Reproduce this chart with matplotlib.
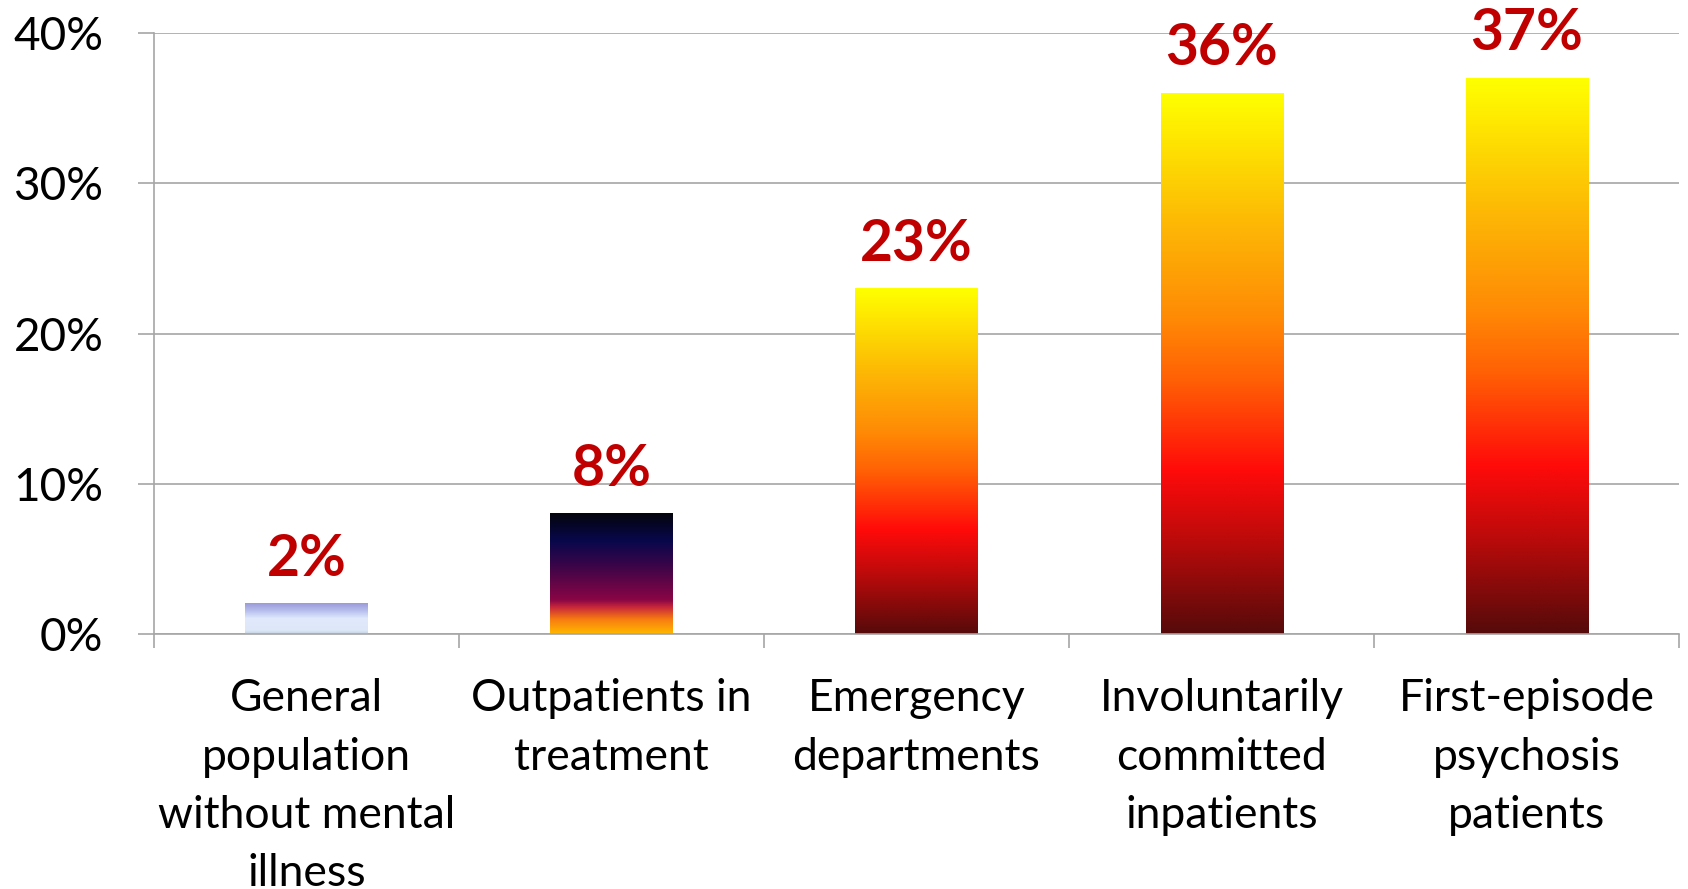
import numpy as np
import matplotlib.pyplot as plt
from matplotlib.colors import LinearSegmentedColormap

plt.rcParams['font.family'] = ['Lato', 'DejaVu Sans']

# chart data
categories = ['General\npopulation\nwithout mental\nillness',
              'Outpatients in\ntreatment',
              'Emergency\ndepartments',
              'Involuntarily\ncommitted\ninpatients',
              'First-episode\npsychosis\npatients']
values = [0.02, 0.08, 0.23, 0.36, 0.37]
value_labels = ['2%', '8%', '23%', '36%', '37%']
yticks = [0, 0.1, 0.2, 0.3, 0.4]
ytick_labels = ['0%', '10%', '20%', '30%', '40%']

# gradients, listed from bottom (0) to top (1)
pale_blue = LinearSegmentedColormap.from_list('pale', [
    (0.0, '#c4d0de'), (0.12, '#dde7f8'), (0.5, '#e0eafc'),
    (0.75, '#b8bfee'), (1.0, '#9a9ad8')])
sunset = LinearSegmentedColormap.from_list('sunset', [
    (0.0, '#ffb800'), (0.12, '#f87c10'), (0.22, '#c8283a'),
    (0.28, '#8a0645'), (0.55, '#3e0548'), (0.77, '#08084c'),
    (1.0, '#04040c')])
fire = LinearSegmentedColormap.from_list('fire', [
    (0.0, '#560a0a'), (0.18, '#c00a0a'), (0.30, '#ff0a0a'),
    (0.47, '#ff6005'), (0.59, '#ff8c05'), (0.76, '#fdb805'),
    (1.0, '#ffff00')])
bar_cmaps = [pale_blue, sunset, fire, fire, fire]

fig = plt.figure(figsize=(16.88, 8.89), dpi=100)
ax = fig.add_axes([0.0912, 0.2868, 0.9035, 0.6761])

x = np.arange(len(categories))
bars = ax.bar(x, values, width=0.4, color='none', zorder=2)

grad = np.linspace(0, 1, 256).reshape(-1, 1)
for bar, cmap in zip(bars, bar_cmaps):
    x0 = bar.get_x()
    ax.imshow(grad, cmap=cmap, origin='lower', aspect='auto', zorder=2,
              extent=[x0, x0 + bar.get_width(), 0, bar.get_height()])

for xi, v, lab in zip(x, values, value_labels):
    ax.annotate(lab, (xi, v), xytext=(0, 20), textcoords='offset points',
                ha='center', va='baseline', fontsize=41, fontweight='bold',
                color='#c00000')

ax.set_xlim(-0.5, len(categories) - 0.5)
ax.set_ylim(0, 0.4)

ax.set_yticks(yticks, ytick_labels)
ax.set_xticks(x, categories)
ax.set_xticks(np.arange(len(categories) + 1) - 0.5, minor=True)
ax.tick_params(axis='y', labelsize=33, length=11.5, width=1.2,
               color='#a6a6a6', pad=25)
ax.tick_params(axis='x', which='major', length=0, labelsize=32, pad=32)
ax.tick_params(axis='x', which='minor', length=10, width=1.2,
               color='#a6a6a6')
for lbl in ax.get_xticklabels():
    lbl.set_linespacing(1.52)

ax.grid(axis='y', color='#a6a6a6', linewidth=1.2, zorder=0)
ax.set_axisbelow(True)
for side in ['top', 'right']:
    ax.spines[side].set_visible(False)
for side in ['left', 'bottom']:
    ax.spines[side].set_color('#a6a6a6')
    ax.spines[side].set_linewidth(1.2)

fig.savefig('out.png', dpi=100)
